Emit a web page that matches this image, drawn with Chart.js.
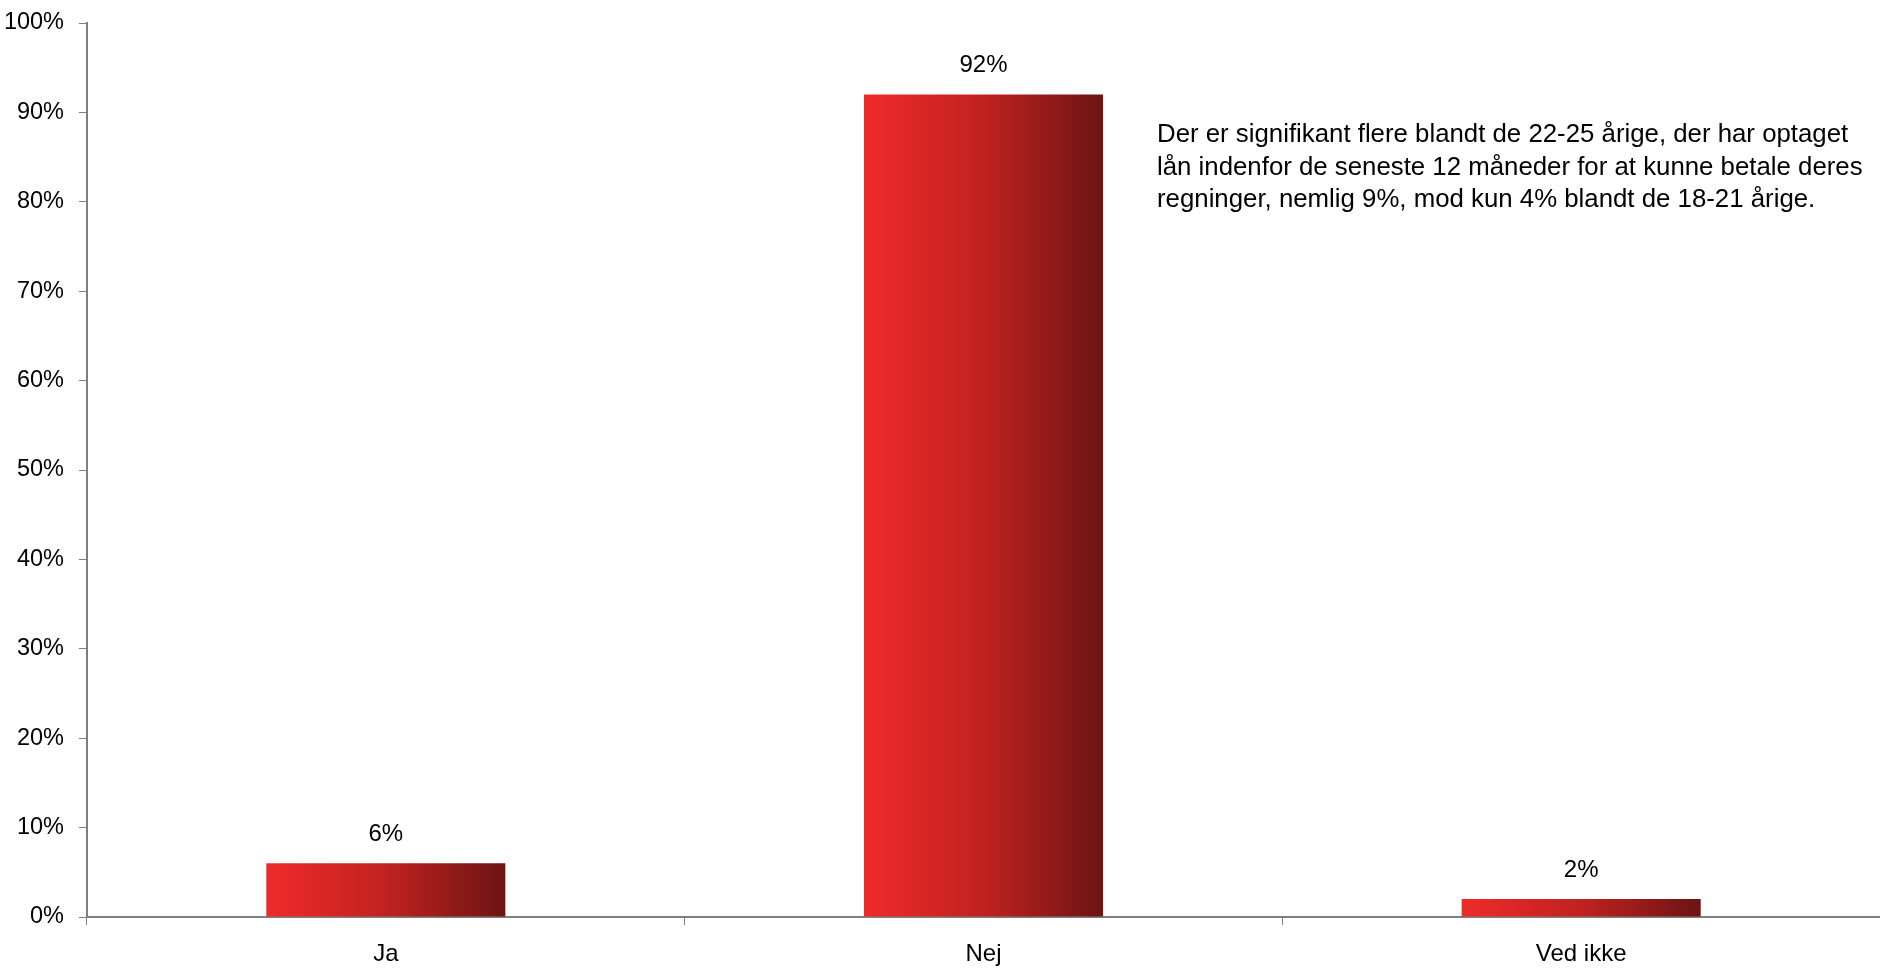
<!DOCTYPE html>
<html>
<head>
<meta charset="utf-8">
<script src="https://cdn.jsdelivr.net/npm/chart.js@4"></script>
<style>
  html, body { margin: 0; padding: 0; background: #fff; }
  #wrap { width: 1880px; height: 968px; }
</style>
</head>
<body>
<div id="wrap"><canvas id="myChart" width="1880" height="968"></canvas></div>
<script>
const kategorier = ['Ja', 'Nej', 'Ved ikke'];
const andele = [6, 92, 2];
const yTicks = [0, 10, 20, 30, 40, 50, 60, 70, 80, 90, 100];
const kommentar = [
    'Der er signifikant flere blandt de 22-25 årige, der har optaget',
    'lån indenfor de seneste 12 måneder for at kunne betale deres',
    'regninger, nemlig 9%, mod kun 4% blandt de 18-21 årige.'
];

const fontNavn = '"Liberation Sans", Arial, sans-serif';
const BAR_PCT = 0.4;

// vandret gradient paa hver soejle
function soejleFarve(context) {
    const chart = context.chart;
    const x = chart.scales && chart.scales.x;
    if (!x || context.dataIndex === undefined || !chart.chartArea) return '#c62222';
    const midt = x.getPixelForValue(context.dataIndex);
    const bredde = (x.width / kategorier.length) * BAR_PCT;
    const g = chart.ctx.createLinearGradient(midt - bredde / 2, 0, midt + bredde / 2, 0);
    g.addColorStop(0, '#ef2b2a');
    g.addColorStop(0.5, '#c02220');
    g.addColorStop(1, '#6c1414');
    return g;
}

const etiketter = {
    id: 'etiketter',
    afterDatasetsDraw(chart) {
        const ctx = chart.ctx;
        const meta = chart.getDatasetMeta(0);
        ctx.save();
        ctx.font = '24px ' + fontNavn;
        ctx.fillStyle = '#000';
        ctx.textAlign = 'center';
        ctx.textBaseline = 'middle';
        meta.data.forEach((bar, i) => {
            ctx.fillText(andele[i] + '%', bar.x, bar.y - 29);
        });
        // kommentar-tekst
        ctx.textAlign = 'left';
        ctx.font = '25.8px ' + fontNavn;
        kommentar.forEach((linje, i) => {
            ctx.fillText(linje, 1157, 135 + i * 32.5);
        });
        ctx.restore();
    }
};

const ctx = document.getElementById('myChart').getContext('2d');
new Chart(ctx, {
    type: 'bar',
    data: {
        labels: kategorier,
        datasets: [{
            data: andele,
            backgroundColor: soejleFarve,
            borderWidth: 0,
            categoryPercentage: 1,
            barPercentage: BAR_PCT
        }]
    },
    options: {
        responsive: false,
        animation: false,
        layout: { padding: { top: 23, right: 0, left: 0, bottom: 0 } },
        plugins: {
            legend: { display: false },
            tooltip: { enabled: false }
        },
        scales: {
            x: {
                grid: { display: true, drawOnChartArea: false, tickLength: 8, color: '#7f7f7f', offset: true },
                border: { display: true, color: '#7f7f7f', width: 2 },
                ticks: { color: '#000', font: { family: fontNavn, size: 24 }, padding: 15 },
                afterFit(scale) { scale.height = 51; }
            },
            y: {
                min: 0,
                max: 100,
                afterBuildTicks(scale) { scale.ticks = yTicks.map(v => ({ value: v })); },
                grid: { display: true, drawOnChartArea: false, tickLength: 8, color: '#7f7f7f' },
                border: { display: true, color: '#7f7f7f', width: 2 },
                ticks: {
                    color: '#000',
                    font: { family: fontNavn, size: 23.5 },
                    padding: 15,
                    callback: v => v + '%'
                },
                afterFit(scale) {
                    scale.width = 87;
                    scale.paddingTop = 0;
                    scale.paddingBottom = 0;
                }
            }
        }
    },
    plugins: [etiketter]
});
</script>
</body>
</html>
